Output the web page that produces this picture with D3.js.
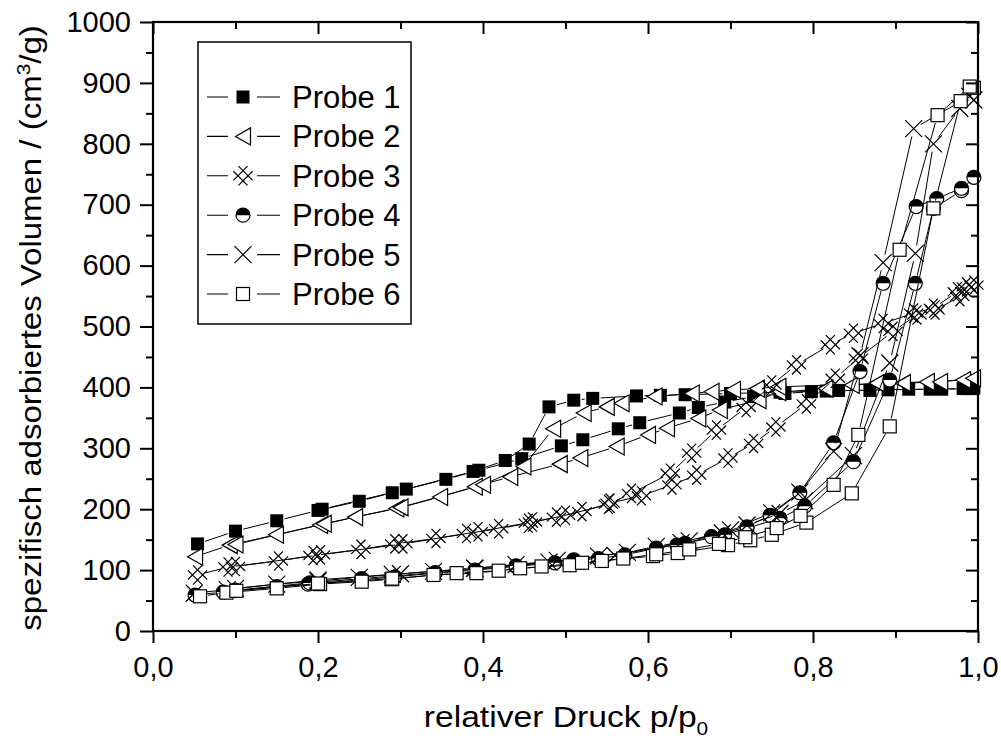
<!DOCTYPE html>
<html><head><meta charset="utf-8">
<script src="https://cdn.jsdelivr.net/npm/d3@7"></script>
<style>body{margin:0;background:#fff} text{font-family:"Liberation Sans",Arial,sans-serif;fill:#000}</style>
</head><body><svg id="c" width="1001" height="743"></svg>
<script>
// ---- data ----
const seriesNames = ["Probe 1","Probe 2","Probe 3","Probe 4","Probe 5","Probe 6"];
const xTicks = [0,0.2,0.4,0.6,0.8,1.0];
const xMinor = [0.1,0.3,0.5,0.7,0.9];
const yTicks = [0,100,200,300,400,500,600,700,800,900,1000];
const yMinor = [50,150,250,350,450,550,650,750,850,950];

const probe1P = [0.054,0.100,0.150,0.200,0.250,0.290,0.355,0.395,0.447,0.495,0.521,0.564,0.590,0.638,0.661,0.693,0.728,0.766,0.798,0.831,0.869,0.891,0.942,0.982,0.995,
                 0.992,0.956,0.916,0.816,0.760,0.700,0.645,0.615,0.586,0.533,0.510,0.480,0.456,0.427,0.388,0.307,0.205];
const probe1V = [143,164,181,198,213,227,249,264,283,304,314,332,342,358,367,376,385,390,393,395,395,396,397,398,399,
                 398,397,397,394,392,390,388,387,386,382,379,368,307,280,262,233,200];

const probe2P = [0.051,0.093,0.149,0.2025,0.245,0.295,0.348,0.390,0.433,0.493,0.518,0.562,0.600,0.623,0.661,0.687,0.734,0.758,0.815,0.847,0.877,0.938,0.982,0.994,
                 0.954,0.909,0.758,0.732,0.703,0.677,0.653,0.608,0.568,0.550,0.522,0.485,0.449,0.400,0.300,0.207,0.100];
const probe2V = [122,141,158,174,187,201,220,237,253,274,284,303,322,333,349,363,379,392,398,404,407,409,412,415,
                 409,407,401,398,396,393,390,385,374,368,358,332,270,240,203,176,142];

const probe3P = [0.054,0.091,0.152,0.194,0.252,0.293,0.343,0.380,0.419,0.455,0.489,0.520,0.554,0.592,0.629,0.659,0.697,0.728,0.755,0.792,0.827,0.855,0.897,0.926,0.948,0.978,0.995,
                 0.986,0.975,0.946,0.922,0.885,0.849,0.821,0.780,0.750,0.719,0.683,0.653,0.627,0.580,0.552,0.500,0.460,0.394,0.303,0.203,0.100];
const probe3V = [92,105,115,124,134,143,152,160,168,177,187,196,210,222,240,256,284,308,335,373,415,448,492,519,527,549,568,
                 565,557,530,522,505,489,470,437,404,367,330,292,259,226,208,190,179,163,143,125,106];

const probe4P = [0.051,0.085,0.150,0.188,0.253,0.293,0.342,0.390,0.440,0.487,0.540,0.572,0.610,0.645,0.693,0.720,0.760,0.790,0.849,0.893,0.924,0.946,0.980,0.995,
                 0.980,0.950,0.925,0.885,0.857,0.825,0.784,0.748,0.720,0.677,0.635,0.510,0.440,0.342,0.253,0.190,0.100];
const probe4V = [59,64,73,77,84,89,95,100,106,112,119,125,136,144,158,169,185,205,278,412,571,694,723,745,
                 727,710,697,571,426,309,227,190,171,155,141,117,107,96,86,79,67];

const probe5P = [0.050,0.090,0.150,0.200,0.250,0.290,0.340,0.390,0.440,0.490,0.540,0.575,0.610,0.650,0.690,0.720,0.760,0.790,0.849,0.893,0.924,0.946,0.978,0.995,
                 0.990,0.922,0.885,0.857,0.825,0.784,0.750,0.700,0.640,0.560,0.480,0.390,0.300,0.200,0.100];
const probe5V = [62,68,77,82,88,93,98,103,109,116,123,129,139,148,161,174,193,214,288,440,620,800,858,872,
                 878,825,605,452,295,228,194,166,145,124,113,103,94,84,70];

const probe6P = [0.057,0.089,0.150,0.2025,0.253,0.289,0.340,0.392,0.445,0.505,0.544,0.606,0.636,0.697,0.724,0.750,0.792,0.847,0.893,0.946,0.979,0.995,
                 0.990,0.951,0.905,0.855,0.825,0.785,0.756,0.718,0.686,0.650,0.610,0.570,0.520,0.471,0.419,0.368,0.290,0.200,0.101];
const probe6V = [57,63,70,77,81,85,92,95,103,108,115,123,128,141,149,158,178,226,336,694,870,892,
                 894,847,626,322,240,189,169,154,143,134,126,119,112,106,99,95,86,78,66];

const markerTypes = ["filledSquare","triangleLeft","hashDiamond","halfCircle","cross","openSquare"];
const allP = [probe1P,probe2P,probe3P,probe4P,probe5P,probe6P];
const allV = [probe1V,probe2V,probe3V,probe4V,probe5V,probe6V];

// ---- chart ----
const svg = d3.select("#c");
const x = d3.scaleLinear().domain([0,1]).range([153,978]);
const y = d3.scaleLinear().domain([0,1000]).range([631,22]);
const fmtX = d => d3.format(".1f")(d).replace(".",",");

function marker(g, type){
  const sw = 1.2;
  if(type==="filledSquare"){
    g.append("rect").attr("x",-6.5).attr("y",-6.5).attr("width",13).attr("height",13).attr("fill","#000");
  } else if(type==="openSquare"){
    g.append("rect").attr("x",-6.5).attr("y",-6.5).attr("width",13).attr("height",13).attr("fill","#fff").attr("stroke","#000").attr("stroke-width",sw);
  } else if(type==="triangleLeft"){
    g.append("path").attr("d","M-7.5,0L7.5,-8.5L7.5,8.5Z").attr("fill","#fff").attr("stroke","#000").attr("stroke-width",sw);
  } else if(type==="hashDiamond"){
    const a=10,o=3.6;
    g.append("path").attr("transform","rotate(45)")
      .attr("d",`M${-o},${-a}V${a}M${o},${-a}V${a}M${-a},${-o}H${a}M${-a},${o}H${a}`)
      .attr("fill","none").attr("stroke","#000").attr("stroke-width",sw);
  } else if(type==="halfCircle"){
    g.append("circle").attr("r",7).attr("fill","#fff").attr("stroke","#000").attr("stroke-width",sw);
    g.append("path").attr("d","M-7,0A7,7 0 0 1 7,0Z").attr("fill","#000");
  } else if(type==="cross"){
    g.append("path").attr("d","M-8.5,-8.5L8.5,8.5M-8.5,8.5L8.5,-8.5").attr("fill","none").attr("stroke","#000").attr("stroke-width",sw);
  }
}

// series
const gap = 8;
allP.forEach((P,si)=>{
  const V = allV[si];
  const pts = P.map((p,i)=>[x(p),y(V[i])]);
  const gs = svg.append("g");
  let d = "";
  for(let i=0;i<pts.length-1;i++){
    const [x1,y1]=pts[i],[x2,y2]=pts[i+1];
    const L = Math.hypot(x2-x1,y2-y1);
    if(L<=2*gap) continue;
    const ux=(x2-x1)/L, uy=(y2-y1)/L;
    d += `M${x1+ux*gap},${y1+uy*gap}L${x2-ux*gap},${y2-uy*gap}`;
  }
  gs.append("path").attr("d",d).attr("fill","none").attr("stroke","#000").attr("stroke-width",1);
  pts.forEach(([px,py])=>{
    marker(gs.append("g").attr("transform",`translate(${px},${py})`), markerTypes[si]);
  });
});

// axes
const fs = 29;
function styleAxis(g){ g.select(".domain").remove(); g.selectAll("line").attr("stroke","#000").attr("stroke-width",2); g.selectAll("text").style("font-size",fs+"px").attr("fill","#000"); }
svg.append("g").attr("transform","translate(0,631)").call(d3.axisBottom(x).tickValues(xTicks).tickSize(12).tickPadding(13).tickFormat(fmtX)).call(styleAxis);
svg.append("g").attr("transform","translate(0,631)").call(d3.axisBottom(x).tickValues(xMinor).tickSize(7).tickFormat("")).call(styleAxis);
svg.append("g").attr("transform","translate(0,22)").call(d3.axisTop(x).tickValues(xTicks).tickSize(-12).tickFormat("")).call(styleAxis);
svg.append("g").attr("transform","translate(0,22)").call(d3.axisTop(x).tickValues(xMinor).tickSize(-7).tickFormat("")).call(styleAxis);
svg.append("g").attr("transform","translate(153,0)").call(d3.axisLeft(y).tickValues(yTicks).tickSize(13).tickPadding(9).tickFormat(d3.format("d"))).call(styleAxis);
svg.append("g").attr("transform","translate(153,0)").call(d3.axisLeft(y).tickValues(yMinor).tickSize(7).tickFormat("")).call(styleAxis);
svg.append("g").attr("transform","translate(978,0)").call(d3.axisRight(y).tickValues(yTicks).tickSize(-12).tickFormat("")).call(styleAxis);
svg.append("g").attr("transform","translate(978,0)").call(d3.axisRight(y).tickValues(yMinor).tickSize(-7).tickFormat("")).call(styleAxis);

// frame
svg.append("rect").attr("x",153).attr("y",22).attr("width",825).attr("height",609)
  .attr("fill","none").attr("stroke","#000").attr("stroke-width",2.2);

// axis titles
const xt = svg.append("text").attr("transform","translate(566,727) scale(1.16,1)").attr("text-anchor","middle").style("font-size","29px");
xt.append("tspan").text("relativer Druck p/p");
xt.append("tspan").attr("dy",8).style("font-size","18px").text("0");

const yt = svg.append("text").attr("transform","translate(41,328) rotate(-90) scale(1.1,1)").attr("text-anchor","middle").style("font-size","30px");
yt.append("tspan").text("spezifisch adsorbiertes Volumen / (cm");
yt.append("tspan").attr("dy",-11).style("font-size","19px").text("3");
yt.append("tspan").attr("dy",11).text("/g)");

// legend
svg.append("rect").attr("x",198).attr("y",42).attr("width",213).attr("height",282)
  .attr("fill","#fff").attr("stroke","#000").attr("stroke-width",1.5);
seriesNames.forEach((name,i)=>{
  const cy = 97 + i*39.4;
  const g = svg.append("g");
  g.append("path").attr("d",`M207,${cy}H228M257,${cy}H280`).attr("stroke","#000").attr("stroke-width",1.1);
  marker(g.append("g").attr("transform",`translate(243,${cy})`), markerTypes[i]);
  g.append("text").attr("x",292).attr("y",cy+11).style("font-size","31px").text(name);
});
</script></body></html>
